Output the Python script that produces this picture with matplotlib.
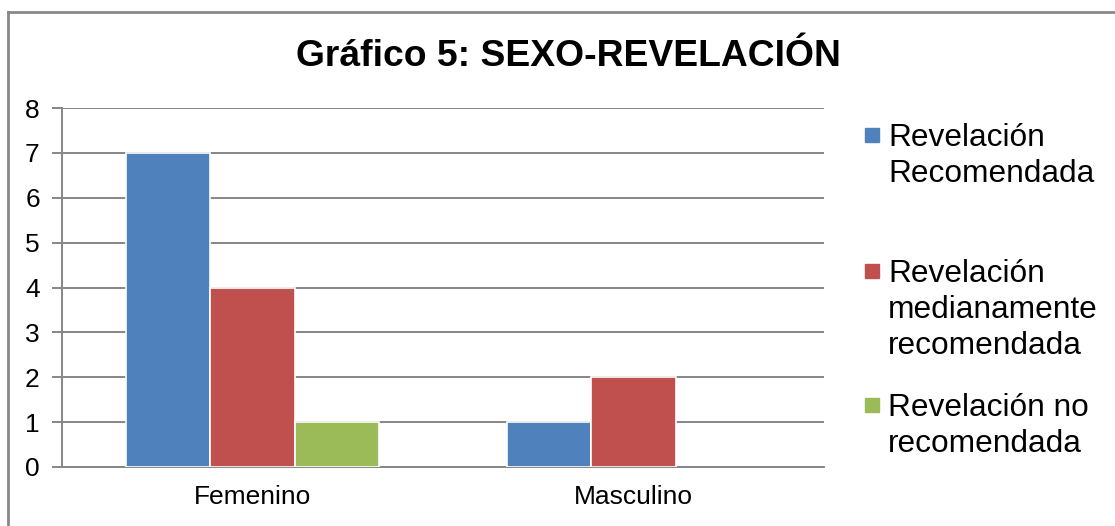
import numpy as np
import matplotlib.pyplot as plt
from matplotlib.patches import Rectangle
from matplotlib.lines import Line2D

categories = ['Femenino', 'Masculino']
series_names = ['Revelación\nRecomendada',
                'Revelación\nmedianamente\nrecomendada',
                'Revelación no\nrecomendada']
recomendada = [7, 1]
medianamente = [4, 2]
no_recomendada = [1, 0]
colors = ['#4F81BD', '#C0504D', '#9BBB59']
yticks = [0, 1, 2, 3, 4, 5, 6, 7, 8]

plt.rcParams['font.family'] = ['Liberation Sans', 'DejaVu Sans']

W, H = 1115, 526
fig = plt.figure(figsize=(W / 100, H / 100), dpi=100)
ax = fig.add_axes([62 / W, 1 - 467 / H, (824 - 62) / W, (467 - 108) / H])

x = np.arange(len(categories))
width = 0.222
values = [recomendada, medianamente, no_recomendada]
for i, vals in enumerate(values):
    vals = np.array(vals, dtype=float)
    shown = vals > 0
    ax.bar(x[shown] + (i - 1) * width, vals[shown], width, color=colors[i],
           edgecolor='white', linewidth=1.2, zorder=3)

ax.set_xlim(-0.5, 1.5)
ax.set_ylim(0, 8)
ax.set_yticks(yticks)
ax.set_xticks(x)
ax.set_xticklabels(categories)
ax.grid(axis='y', color='#868686', linewidth=1.4, zorder=0)
for s in ['top', 'right']:
    ax.spines[s].set_visible(False)
for s in ['left', 'bottom']:
    ax.spines[s].set_color('#868686')
    ax.spines[s].set_linewidth(1.4)
ax.tick_params(axis='y', length=7, width=1.4, color='#868686', labelsize=19, pad=9)
ax.tick_params(axis='x', length=0, labelsize=19, pad=13)

fig.text(568 / W, 1 - 56 / H, 'Gráfico 5: SEXO-REVELACIÓN', ha='center', va='center',
         fontsize=26.8, fontweight='bold')

# legend drawn by hand to keep Excel-like spacing
centers = [135, 271, 405]
for name, c, m in zip(series_names, colors, centers):
    fig.patches.append(Rectangle((865 / W, 1 - (m + 7) / H), 14 / W, 14 / H,
                                 transform=fig.transFigure, color=c))
    fig.text(888 / W, 1 - (m - 12) / H, name, ha='left', va='top',
             fontsize=22.8, linespacing=1.27)

# chart border
fig.add_artist(Line2D([8 / W, 1], [1 - 12 / H, 1 - 12 / H], color='#888888', lw=2,
                      transform=fig.transFigure))
fig.add_artist(Line2D([8 / W, 8 / W], [0, 1 - 12 / H], color='#888888', lw=2,
                      transform=fig.transFigure))

fig.savefig('out.png', dpi=100)
